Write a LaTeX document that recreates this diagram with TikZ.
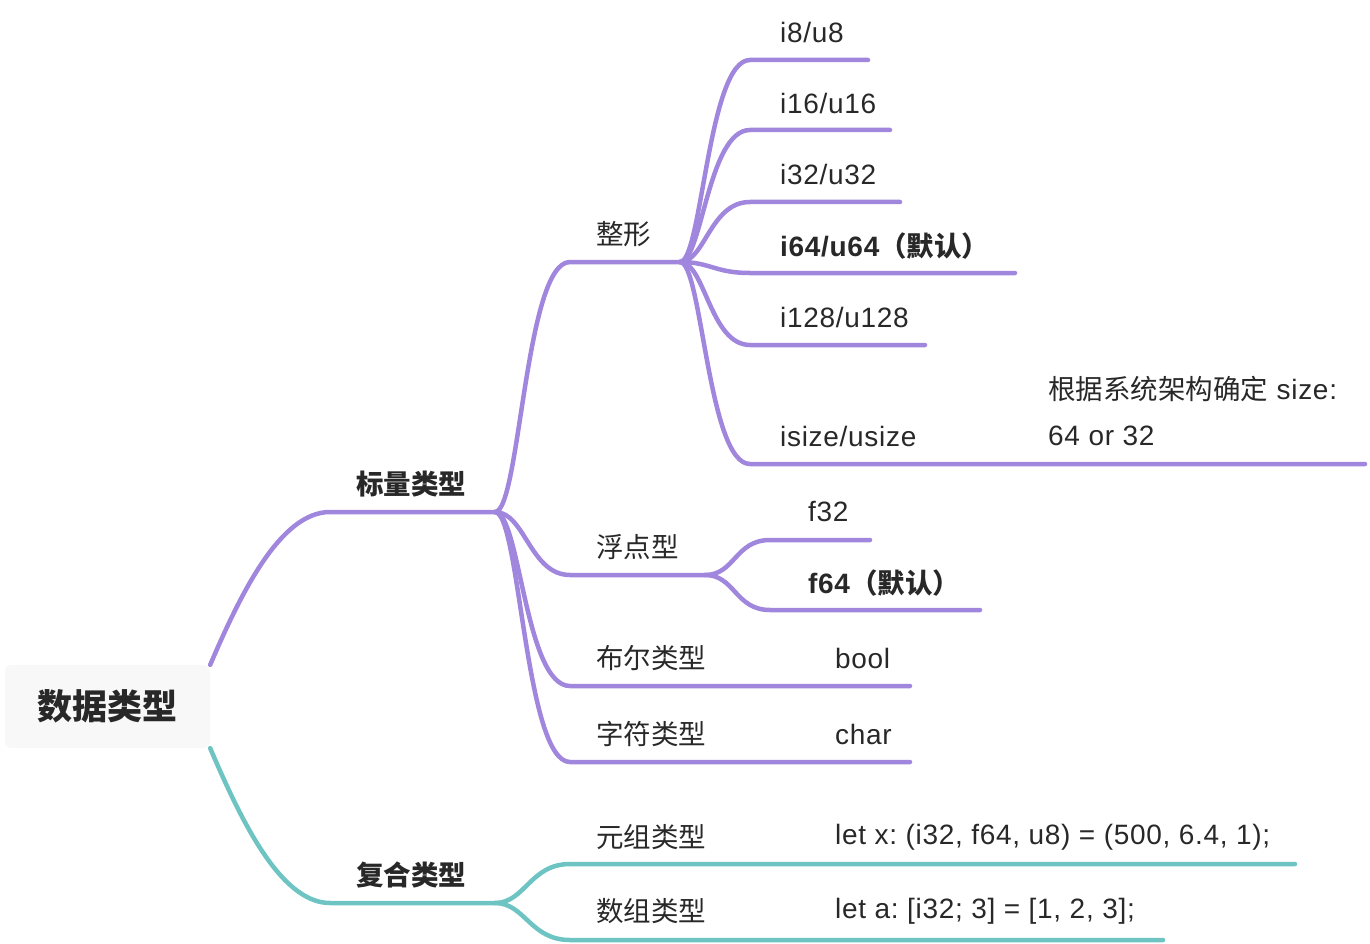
\documentclass[tikz,border=0pt]{standalone}
\usepackage{fontspec}
\setmainfont{Noto Sans CJK SC}
\newfontfamily\lat{Liberation Sans}[LetterSpace=2.5]
\usepackage{tikz}
\usetikzlibrary{positioning}

\definecolor{mmpurple}{RGB}{160,134,221}
\definecolor{mmteal}{RGB}{110,196,194}
\definecolor{mmtext}{RGB}{40,40,40}
\definecolor{rootgray}{RGB}{248,248,248}
\frenchspacing

\begin{document}
\begin{tikzpicture}[x=1pt,y=-1pt,
  lbl/.style={font=\fontsize{27.5}{30}\selectfont, text=mmtext, inner sep=0pt, anchor=west},
  lblb/.style={lbl, font=\fontsize{27.5}{30}\selectfont\bfseries},
  latl/.style={lbl, font=\fontsize{28}{30}\selectfont\lat},
  pline/.style={draw=mmpurple, line width=4.5pt, line cap=round},
  tline/.style={draw=mmteal, line width=4.5pt, line cap=round}]
\useasboundingbox (0,0) rectangle (1370,944);
% root
\node[fill=rootgray, rounded corners=6pt, minimum width=205pt, minimum height=83pt,
  inner sep=0pt, text=mmtext, font=\fontsize{35}{40}\selectfont\bfseries] (root) at (107.5,706.5) {数据类型};
% junctions
\coordinate (sc-a) at (330,512);   \coordinate (sc-b) at (495,512);
\coordinate (cp-a) at (330,903);   \coordinate (cp-b) at (495,903);
\coordinate (int-a) at (570,262);  \coordinate (int-b) at (680,262);
\coordinate (flt-a) at (570,575);  \coordinate (flt-b) at (705,575);
\coordinate (bool-a) at (570,686); \coordinate (bool-b) at (720,686); \coordinate (bool-c) at (910,686);
\coordinate (chr-a) at (570,762);  \coordinate (chr-b) at (720,762);  \coordinate (chr-c) at (910,762);
\coordinate (i8-a) at (750,60);    \coordinate (i8-b) at (868,60);
\coordinate (i16-a) at (750,130);  \coordinate (i16-b) at (890,130);
\coordinate (i32-a) at (750,202);  \coordinate (i32-b) at (900,202);
\coordinate (i64-a) at (750,273);  \coordinate (i64-b) at (1015,273);
\coordinate (i128-a) at (750,345); \coordinate (i128-b) at (925,345);
\coordinate (isz-a) at (750,464);  \coordinate (isz-b) at (1030,464); \coordinate (isz-c) at (1365,464);
\coordinate (f32-a) at (770,540);  \coordinate (f32-b) at (870,540);
\coordinate (f64-a) at (770,610);  \coordinate (f64-b) at (980,610);
\coordinate (tup-a) at (570,864);  \coordinate (tup-b) at (720,864);  \coordinate (tup-c) at (1295,864);
\coordinate (arr-a) at (570,940);  \coordinate (arr-b) at (720,940);  \coordinate (arr-c) at (1163,940);
% connectors
\draw[pline] (root.north east) .. controls +(30,-70) and +(-50,0) .. (sc-a) -- (sc-b);
\draw[tline] (root.south east) .. controls +(30,70) and +(-50,0) .. (cp-a) -- (cp-b);
\draw[pline] (sc-b) .. controls +(25,0) and +(-45,0) .. (int-a) -- (int-b);
\draw[pline] (sc-b) .. controls +(30,0) and +(-40,0) .. (flt-a) -- (flt-b);
\draw[pline] (sc-b) .. controls +(25,0) and +(-45,0) .. (bool-a) -- (bool-b) -- (bool-c);
\draw[pline] (sc-b) .. controls +(25,0) and +(-45,0) .. (chr-a) -- (chr-b) -- (chr-c);
\draw[pline] (int-b) .. controls +(22,0) and +(-42,0) .. (i8-a) -- (i8-b);
\draw[pline] (int-b) .. controls +(22,0) and +(-42,0) .. (i16-a) -- (i16-b);
\draw[pline] (int-b) .. controls +(25,0) and +(-40,0) .. (i32-a) -- (i32-b);
\draw[pline] (int-b) .. controls +(30,0) and +(-35,0) .. (i64-a) -- (i64-b);
\draw[pline] (int-b) .. controls +(25,0) and +(-40,0) .. (i128-a) -- (i128-b);
\draw[pline] (int-b) .. controls +(22,0) and +(-42,0) .. (isz-a) -- (isz-b) -- (isz-c);
\draw[pline] (flt-b) .. controls +(30,0) and +(-35,0) .. (f32-a) -- (f32-b);
\draw[pline] (flt-b) .. controls +(30,0) and +(-35,0) .. (f64-a) -- (f64-b);
\draw[tline] (cp-b) .. controls +(30,0) and +(-40,0) .. (tup-a) -- (tup-b) -- (tup-c);
\draw[tline] (cp-b) .. controls +(30,0) and +(-40,0) .. (arr-a) -- (arr-b) -- (arr-c);
% labels
\node[lblb] (scalar) at (356,484) {标量类型};
\node[lblb] (compound) at (356,875) {复合类型};
\node[lbl] (int) at (596,234) {整形};
\node[lbl] (flt) at (596,547) {浮点型};
\node[lbl] (bool) at (596,658) {布尔类型};
\node[latl] (boolv) at (835,658) {bool};
\node[lbl] (chr) at (596,734) {字符类型};
\node[latl] (chrv) at (835,734) {char};
\node[latl] (i8) at (780,32) {i8/u8};
\node[latl] (i16) at (780,103) {i16/u16};
\node[latl] (i32) at (780,174) {i32/u32};
\node[lblb] (i64) at (780,246) {{\fontsize{28}{30}\selectfont\lat\bfseries i64/u64}（默认）};
\node[latl] (i128) at (780,317) {i128/u128};
\node[latl] (isz) at (780,436) {isize/usize};
\node[lbl] (iszn1) at (1048,389) {根据系统架构确定{\fontsize{28}{30}\selectfont\lat\ size:}};
\node[latl] (iszn2) at (1048,436) {64 or 32};
\node[latl] (f32) at (808,512) {f32};
\node[lblb] (f64) at (808,583) {{\fontsize{28}{30}\selectfont\lat\bfseries f64}（默认）};
\node[lbl] (tup) at (596,837) {元组类型};
\node[latl] (tupv) at (835,837) {let x: (i32, f64, u8) = (500, 6.4, 1);};
\node[lbl] (arr) at (596,911) {数组类型};
\node[latl] (arrv) at (835,911) {let a: [i32; 3] = [1, 2, 3];};
\end{tikzpicture}
\end{document}
